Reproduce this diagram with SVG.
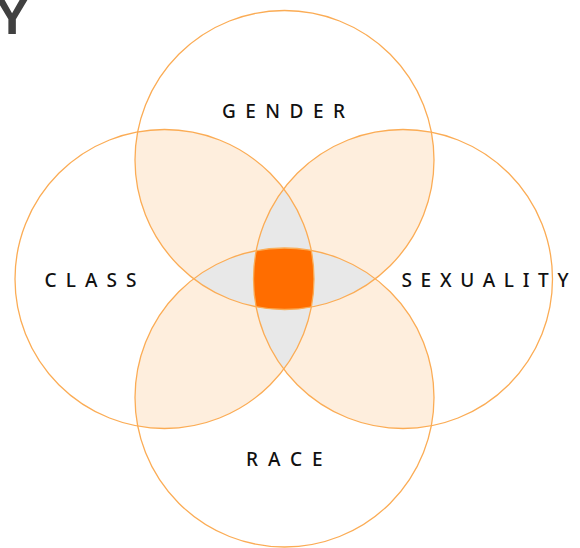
<svg xmlns="http://www.w3.org/2000/svg" width="580" height="548" viewBox="0 0 580 548">
<style>
.ring{fill:none;stroke:#fbac55;stroke-width:1.3}
.two{fill:#feeedd}
.three{fill:#e8e8e8}
.four{fill:#ff6d00}
.lbl{font-family:"Noto Sans","Open Sans","DejaVu Sans",sans-serif;font-size:19px;font-weight:500;fill:#111}
.big{font-family:"Liberation Sans",Arial,sans-serif;font-size:52px;font-weight:700;fill:#404040}
</style>
<defs>
<clipPath id="cT"><circle cx="284.5" cy="160" r="149.5"/></clipPath>
<clipPath id="cB"><circle cx="284.5" cy="397.5" r="149.5"/></clipPath>
<clipPath id="cL"><circle cx="164.5" cy="279" r="149.5"/></clipPath>
<clipPath id="cR"><circle cx="403" cy="279" r="149.5"/></clipPath>
</defs>
<rect width="580" height="548" fill="#fff"/>
<text class="big" x="12" y="34" text-anchor="middle">Y</text>
<g id="overlaps">
<g clip-path="url(#cT)">
<circle class="two" cx="164.5" cy="279" r="149.5"/>
<circle class="two" cx="403" cy="279" r="149.5"/>
</g>
<g clip-path="url(#cB)">
<circle class="two" cx="164.5" cy="279" r="149.5"/>
<circle class="two" cx="403" cy="279" r="149.5"/>
</g>
<g clip-path="url(#cT)"><circle class="three" cx="284.5" cy="397.5" r="149.5"/></g>
<g clip-path="url(#cL)"><circle class="three" cx="403" cy="279" r="149.5"/></g>
<g clip-path="url(#cT)"><g clip-path="url(#cB)"><g clip-path="url(#cL)"><circle class="four" cx="403" cy="279" r="149.5"/></g></g></g>
</g>
<g id="gender">
<circle class="ring" cx="284.5" cy="160" r="149.5"/>
<text class="lbl" x="222" y="118" textLength="123" lengthAdjust="spacing">GENDER</text>
</g>
<g id="class">
<circle class="ring" cx="164.5" cy="279" r="149.5"/>
<text class="lbl" x="44.5" y="286.5" textLength="92" lengthAdjust="spacing">CLASS</text>
</g>
<g id="sexuality">
<circle class="ring" cx="403" cy="279" r="149.5"/>
<text class="lbl" x="401.5" y="286.5" textLength="167" lengthAdjust="spacing">SEXUALITY</text>
</g>
<g id="race">
<circle class="ring" cx="284.5" cy="397.5" r="149.5"/>
<text class="lbl" x="246" y="465.5" textLength="76.5" lengthAdjust="spacing">RACE</text>
</g>
<g id="connectors"/>
</svg>
